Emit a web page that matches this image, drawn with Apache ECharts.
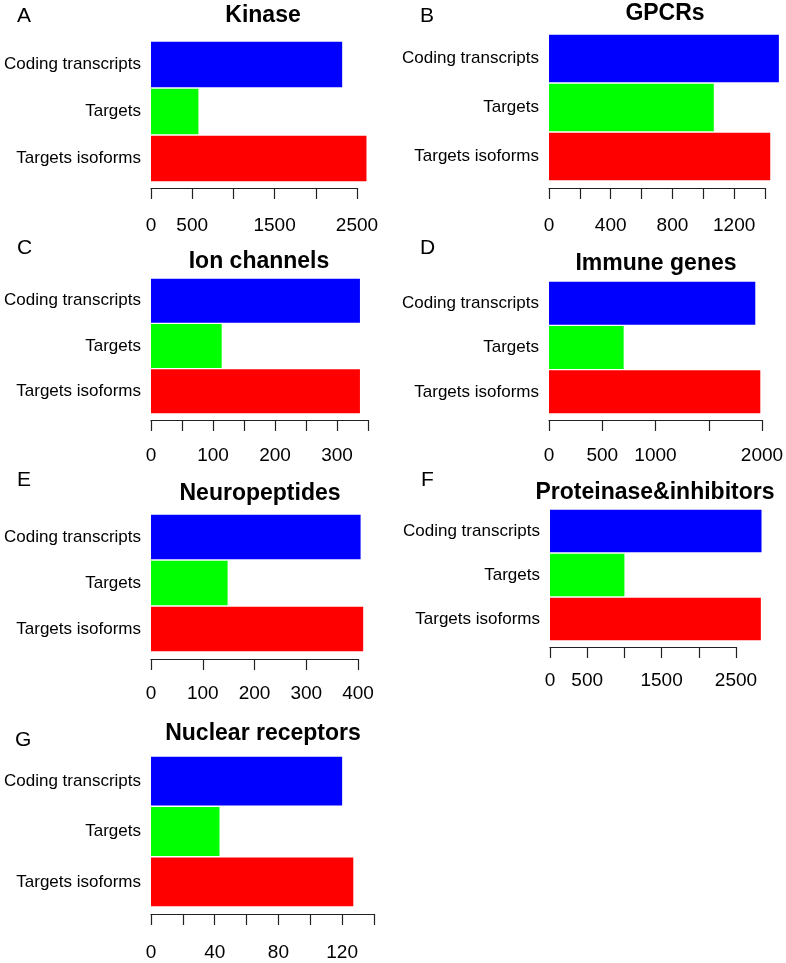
<!DOCTYPE html>
<html>
<head>
<meta charset="utf-8">
<script src="https://cdn.jsdelivr.net/npm/echarts@6/dist/echarts.min.js"></script>
<style>
  html, body { margin: 0; padding: 0; background: #fff; }
  #chart { width: 786px; height: 963px; }
</style>
</head>
<body>
<div id="chart"></div>
<script>
// categories, top to bottom
const categories = ['Coding transcripts', 'Targets', 'Targets isoforms']
const barColors = ['#0000ff', '#00ff00', '#ff0000']

// values
const kinase = [2320, 575, 2615]
const gpcrs = [1490, 1068, 1434]
const ionChannels = [337, 114, 337]
const immuneGenes = [1937, 701, 1984]
const neuropeptides = [405, 148, 410]
const proteinase = [2843, 1000, 2834]
const nuclearReceptors = [120, 43, 127]

// labelled ticks (R drops the ones that would overlap)
const kinaseLabels = [0, 500, 1500, 2500]
const gpcrsLabels = [0, 400, 800, 1200]
const ionLabels = [0, 100, 200, 300]
const immuneLabels = [0, 500, 1000, 2000]
const neuroLabels = [0, 100, 200, 300, 400]
const proteinaseLabels = [0, 500, 1500, 2500]
const nuclearLabels = [0, 40, 80, 120]

const panels = [
    { letter: 'A', title: 'Kinase', values: kinase, labels: kinaseLabels, max: 2500, interval: 500 },
    { letter: 'B', title: 'GPCRs', values: gpcrs, labels: gpcrsLabels, max: 1400, interval: 200 },
    { letter: 'C', title: 'Ion channels', values: ionChannels, labels: ionLabels, max: 350, interval: 50 },
    { letter: 'D', title: 'Immune genes', values: immuneGenes, labels: immuneLabels, max: 2000, interval: 500 },
    { letter: 'E', title: 'Neuropeptides', values: neuropeptides, labels: neuroLabels, max: 400, interval: 100 },
    { letter: 'F', title: 'Proteinase&inhibitors', values: proteinase, labels: proteinaseLabels, max: 2500, interval: 500 },
    { letter: 'G', title: 'Nuclear receptors', values: nuclearReceptors, labels: nuclearLabels, max: 140, interval: 20 }
]

// layout: grid box, axis offset, label margin, title centre, letter position
const layout = [
    { grid: [151, 41, 206, 141], offset: 6, margin: 28, title: [263, 4], letter: [17, 6] },
    { grid: [549, 34, 216, 147], offset: 7, margin: 28, title: [665, 2], letter: [420, 6] },
    { grid: [151, 278, 217, 136], offset: 6, margin: 26, title: [259, 250], letter: [17, 238] },
    { grid: [549, 281, 213, 133], offset: 6, margin: 26, title: [656, 252], letter: [420, 238] },
    { grid: [151, 514, 207, 138], offset: 7, margin: 25, title: [260, 482], letter: [17, 470] },
    { grid: [550, 509, 186, 132], offset: 6, margin: 24, title: [655, 481], letter: [421, 470] },
    { grid: [151, 756, 223, 151], offset: 7, margin: 29, title: [263, 722], letter: [15, 730] }
]

const fontFamily = '"Liberation Sans", Arial, Helvetica, sans-serif'

const chart = echarts.init(document.getElementById('chart'), null, { renderer: 'canvas' })

const grid = []
const xAxis = []
const yAxis = []
const series = []
const title = []

panels.forEach((p, i) => {
    const l = layout[i]
    grid.push({
        left: l.grid[0],
        top: l.grid[1],
        width: l.grid[2],
        height: l.grid[3],
        outerBoundsMode: 'none'
    })
    xAxis.push({
        type: 'value',
        gridIndex: i,
        min: 0,
        max: p.max,
        interval: p.interval,
        offset: l.offset,
        splitLine: { show: false },
        axisLine: { show: true, lineStyle: { color: '#222', width: 1.2 } },
        axisTick: { show: true, length: 11, lineStyle: { color: '#222', width: 1.2 } },
        axisLabel: {
            customValues: p.labels,
            formatter: v => String(v),
            margin: l.margin,
            color: '#000',
            fontSize: 19,
            fontFamily: fontFamily
        }
    })
    yAxis.push({
        type: 'category',
        gridIndex: i,
        inverse: true,
        data: categories,
        axisLine: { show: false },
        axisTick: { show: false },
        axisLabel: {
            margin: 10,
            color: '#000',
            fontSize: 17,
            fontFamily: fontFamily
        }
    })
    series.push({
        type: 'bar',
        xAxisIndex: i,
        yAxisIndex: i,
        clip: false,
        barCategoryGap: '3%',
        animation: false,
        data: p.values.map((v, k) => ({ value: v, itemStyle: { color: barColors[k] } }))
    })
    title.push({
        text: p.title,
        left: l.title[0],
        top: l.title[1],
        textAlign: 'center',
        padding: 0,
        textStyle: { fontSize: 23, fontWeight: 'bold', color: '#000', fontFamily: fontFamily }
    })
    title.push({
        text: p.letter,
        left: l.letter[0],
        top: l.letter[1],
        padding: 0,
        textStyle: { fontSize: 21, fontWeight: 'normal', color: '#000', fontFamily: fontFamily }
    })
})

chart.setOption({
    animation: false,
    backgroundColor: '#fff',
    title: title,
    grid: grid,
    xAxis: xAxis,
    yAxis: yAxis,
    series: series
})
</script>
</body>
</html>
